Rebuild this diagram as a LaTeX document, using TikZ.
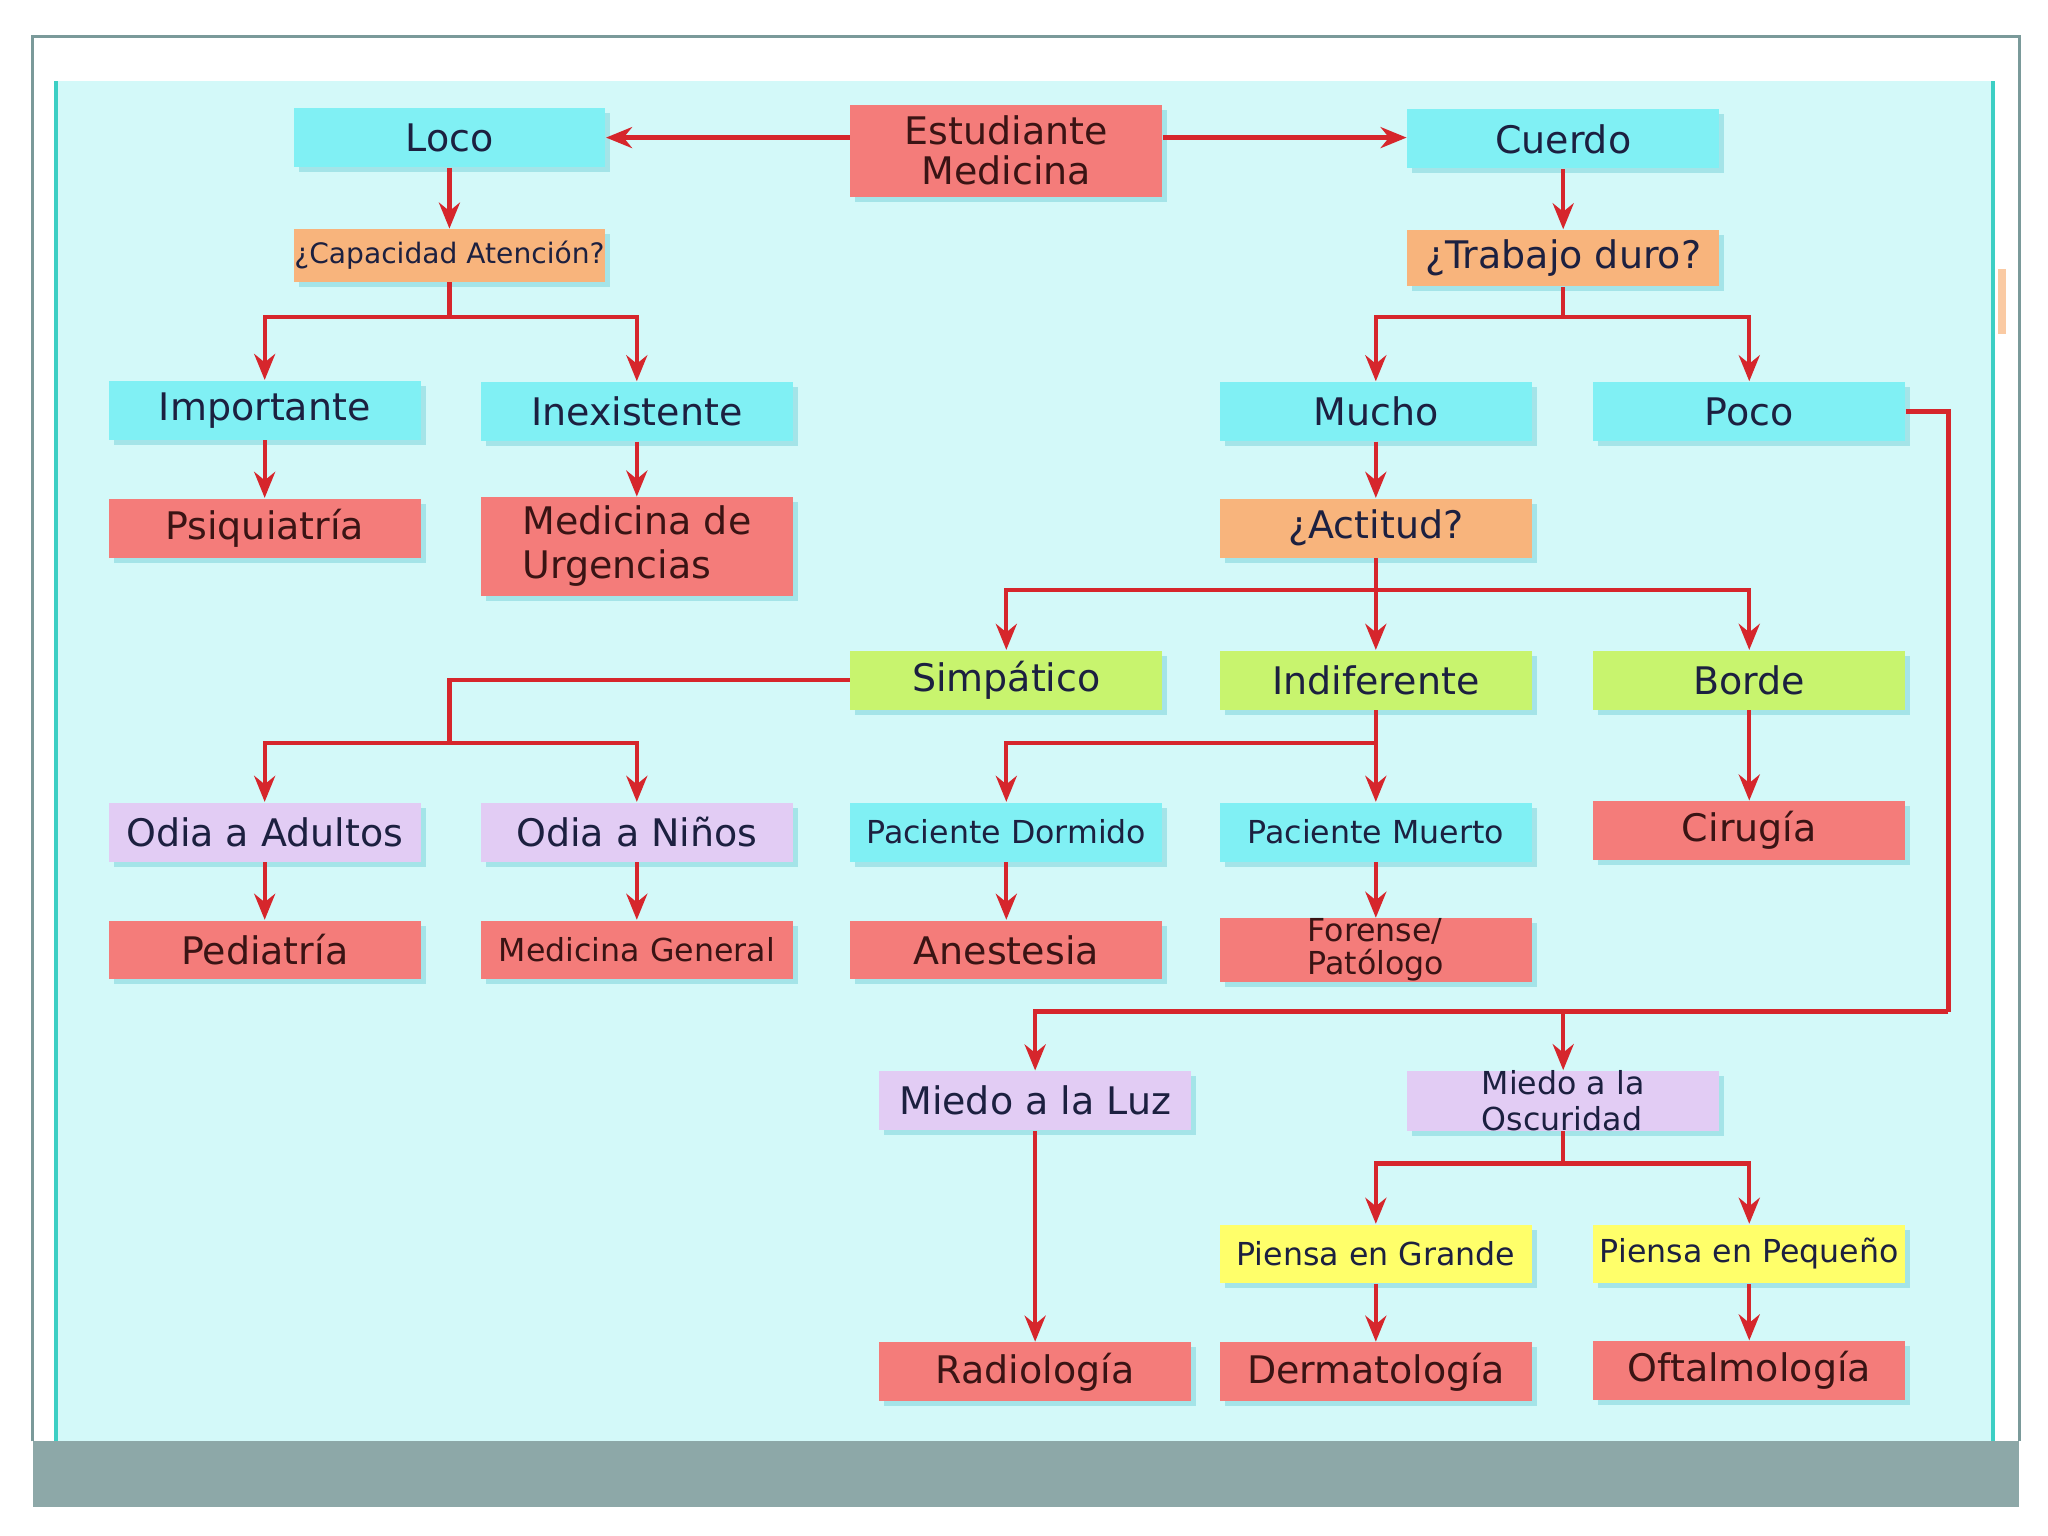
\documentclass[tikz,border=0pt]{standalone}
\usepackage{fontspec}
\setmainfont{DejaVu Sans}
\usepackage{xcolor}
\usetikzlibrary{arrows.meta,shadows,calc}
\definecolor{fondo}{HTML}{D3F9F9}
\definecolor{marco}{HTML}{7A9A9A}
\definecolor{barra}{HTML}{8DA8A8}
\definecolor{borde}{HTML}{3CCFC4}
\definecolor{cian}{HTML}{80F0F4}
\definecolor{salmon}{HTML}{F47C7A}
\definecolor{naranja}{HTML}{F8B47C}
\definecolor{verde}{HTML}{C8F46E}
\definecolor{lila}{HTML}{E2CCF4}
\definecolor{amarillo}{HTML}{FFFF6A}
\definecolor{rojo}{HTML}{D6262C}
\definecolor{sombra}{HTML}{A4E4E8}
\definecolor{tinta}{HTML}{1C2040}
\definecolor{tintaroja}{HTML}{3A1414}
\tikzset{
	caja/.style={minimum width=238*0.131mm, minimum height=45*0.131mm, inner sep=0pt,
			align=center, text=tinta, font=\fontsize{10.8}{11.3}\selectfont,
			drop shadow={shadow xshift=0.5mm, shadow yshift=-0.5mm, fill=sombra, opacity=1}},
	chica/.style={font=\fontsize{9}{10}\selectfont},
	cajacian/.style={caja, fill=cian},
	cajasalmon/.style={caja, fill=salmon, text=tintaroja},
	cajanaranja/.style={caja, fill=naranja},
	cajaverde/.style={caja, fill=verde},
	cajalila/.style={caja, fill=lila},
	cajaamarilla/.style={caja, fill=amarillo, chica},
	linea/.style={draw=rojo, line width=1.2pt},
	flecha/.style={linea, -{Stealth[length=2.6mm, width=2.1mm]}}
}

\begin{document}
\begin{tikzpicture}[x=0.131mm, y=-0.131mm]
	\useasboundingbox (0,0) rectangle (1563,1172);
	% marco y fondo
	\fill[white] (0,0) rectangle (1563,1172);
	\fill[fondo] (43,62) rectangle (1522,1100);
	\draw[borde, line width=1.2pt] (43,62) -- (43,1100) (1521,62) -- (1521,1100);
	\fill[barra] (25,1100) rectangle (1541,1150);
	\draw[marco, line width=0.9pt] (25,1100) -- (25,28) -- (1541,28) -- (1541,1100);
	\fill[naranja!70!white] (1525,205) rectangle (1531,255);

	% primera fila
	\node[cajasalmon, minimum height=70*0.131mm] (estud) at (768,115) {Estudiante\\Medicina};
	\node[cajacian] (loco) at (343,105) {Loco};
	\node[cajacian] (cuerdo) at (1193,106) {Cuerdo};
	\node[cajanaranja, minimum height=40*0.131mm, font=\fontsize{8}{9}\selectfont] (capac) at (343,195) {¿Capacidad Atención?};
	\node[cajanaranja, minimum height=43*0.131mm] (trabajo) at (1193,197) {¿Trabajo duro?};

	% loco
	\node[cajacian] (imp) at (202,313) {Importante};
	\node[cajacian] (inex) at (486,314) {Inexistente};
	\node[cajasalmon] (psiq) at (202,403) {Psiquiatría};
	\node[cajasalmon, minimum height=75*0.131mm, align=left, font=\fontsize{10.8}{12.5}\selectfont] (urg) at (486,417) {Medicina de\\Urgencias};

	% cuerdo
	\node[cajacian] (mucho) at (1050,314) {Mucho};
	\node[cajacian] (poco) at (1335,314) {Poco};
	\node[cajanaranja] (actitud) at (1050,403) {¿Actitud?};
	\node[cajaverde] (simp) at (768,519) {Simpático};
	\node[cajaverde] (indif) at (1050,519) {Indiferente};
	\node[cajaverde] (borde) at (1335,519) {Borde};

	\node[cajalila] (adult) at (202,635) {Odia a Adultos};
	\node[cajalila] (ninos) at (486,635) {Odia a Niños};
	\node[cajacian, chica] (dorm) at (768,635) {Paciente Dormido};
	\node[cajacian, chica] (muerto) at (1050,635) {Paciente Muerto};
	\node[cajasalmon] (cirug) at (1335,634) {Cirugía};

	\node[cajasalmon] (pedia) at (202,725) {Pediatría};
	\node[cajasalmon, chica] (medgen) at (486,725) {Medicina General};
	\node[cajasalmon] (anest) at (768,725) {Anestesia};
	\node[cajasalmon, align=left, font=\fontsize{9}{9.5}\selectfont] (foren) at (1050,725) {Forense/\\Patólogo};

	% poco
	\node[cajalila] (luz) at (790,840) {Miedo a la Luz};
	\node[cajalila, chica, align=left] (oscur) at (1193,840) {Miedo a la\\Oscuridad};
	\node[cajaamarilla] (grande) at (1050,957) {Piensa en Grande};
	\node[cajaamarilla] (peque) at (1335,957) {Piensa en Pequeño};
	\node[cajasalmon] (radio) at (790,1047) {Radiología};
	\node[cajasalmon] (derma) at (1050,1047) {Dermatología};
	\node[cajasalmon] (oftal) at (1335,1046) {Oftalmología};

	% puntos de cruce
	\coordinate (j1) at (343,242);
	\coordinate (j2) at (1193,242);
	\coordinate (j3) at (1050,450);
	\coordinate (j4) at (343,567);
	\coordinate (j5) at (1050,567);
	\coordinate (j6) at (1487,772);
	\coordinate (j7) at (1193,888);

	% flechas
	\draw[flecha] (estud.west |- loco) -- (loco.east);
	\draw[flecha] (estud.east |- loco) -- (cuerdo.west |- loco);
	\draw[flecha] (loco) -- (capac);
	\draw[flecha] (cuerdo) -- (trabajo);

	\draw[linea] (capac) -- (j1);
	\draw[flecha] (j1) -| (imp.north);
	\draw[flecha] (j1) -| (inex.north);
	\draw[flecha] (imp) -- (psiq);
	\draw[flecha] (inex) -- (urg);

	\draw[linea] (trabajo) -- (j2);
	\draw[flecha] (j2) -| (mucho.north);
	\draw[flecha] (j2) -| (poco.north);
	\draw[flecha] (mucho) -- (actitud);

	\draw[flecha] (actitud) -- (indif);
	\draw[flecha] (j3) -| (simp.north);
	\draw[flecha] (j3) -| (borde.north);
	\draw[flecha] (borde) -- (cirug);

	\draw[linea] (simp.west) -| (j4);
	\draw[flecha] (j4) -| (adult.north);
	\draw[flecha] (j4) -| (ninos.north);
	\draw[flecha] (adult) -- (pedia);
	\draw[flecha] (ninos) -- (medgen);

	\draw[flecha] (indif) -- (muerto);
	\draw[flecha] (j5) -| (dorm.north);
	\draw[flecha] (dorm) -- (anest);
	\draw[flecha] (muerto) -- (foren);

	\draw[linea] (poco.east) -| (j6);
	\draw[flecha] (j6) -| (luz.north);
	\draw[flecha] (oscur.north |- j6) -- (oscur.north);
	\draw[flecha] (luz) -- (radio);

	\draw[linea] (oscur) -- (j7);
	\draw[flecha] (j7) -| (grande.north);
	\draw[flecha] (j7) -| (peque.north);
	\draw[flecha] (grande) -- (derma);
	\draw[flecha] (peque) -- (oftal);
\end{tikzpicture}
\end{document}
